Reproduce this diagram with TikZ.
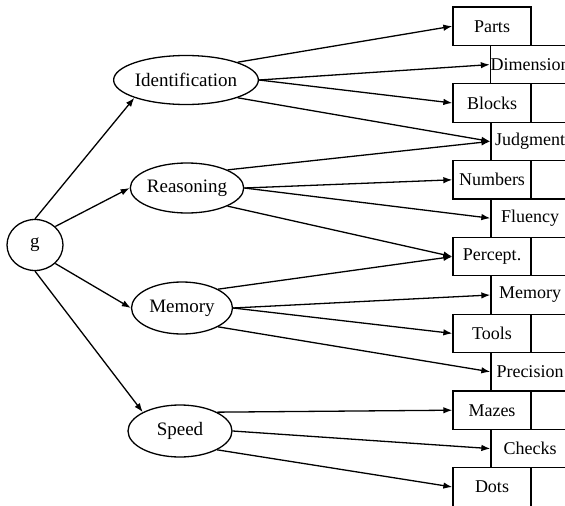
\documentclass[tikz,border=0pt]{standalone}
\usepackage{fontspec}
\setmainfont{Liberation Serif}
\usetikzlibrary{shapes.geometric,arrows.meta}
\begin{document}
\begin{tikzpicture}[x=1pt,y=-1pt,
  lat/.style={draw, ellipse, inner sep=0pt, line width=1.3pt, font=\fontsize{19}{21}\selectfont},
  obs/.style={draw, rectangle, minimum width=78pt, minimum height=38.4pt, inner sep=0pt, line width=1.3pt, font=\fontsize{18}{20}\selectfont},
  arr/.style={-{Latex[length=9pt,width=6.5pt]}, line width=1.3pt}]
\useasboundingbox (0,0) rectangle (565,506);
% latent nodes
\node[lat, minimum width=56pt, minimum height=51pt] (g) at (35,245) {g};
\node[lat, minimum width=106pt, minimum height=49pt] (id) at (186,80) {Identification};
\node[lat, minimum width=110pt, minimum height=50pt] (re) at (187,188) {Reasoning};
\node[lat, minimum width=101pt, minimum height=52pt] (me) at (182,308) {Memory};
\node[lat, minimum width=104pt, minimum height=52pt] (sp) at (180,431) {Speed};
% observed boxes
\node[obs] (parts)  at (492,26.2)  {Parts};
\node[obs] (dim)    at (530,64.6)  {Dimension};
\node[obs] (blocks) at (492,103)   {Blocks};
\node[obs] (judg)   at (530,141.4) {Judgment};
\node[obs] (num)    at (492,179.8) {Numbers};
\node[obs] (flu)    at (530,218.2) {Fluency};
\node[obs] (perc)   at (492,256.6) {Percept.};
\node[obs] (mem)    at (530,295)   {Memory};
\node[obs] (tools)  at (492,333.4) {Tools};
\node[obs] (prec)   at (530,371.8) {Precision};
\node[obs] (mazes)  at (492,410.2) {Mazes};
\node[obs] (checks) at (530,448.6) {Checks};
\node[obs] (dots)   at (492,487)   {Dots};
% g to latent
\draw[arr] (g.north) -- (id.south west);
\draw[arr] (g.north east) -- (re.west);
\draw[arr] (g.south east) -- (me.west);
\draw[arr] (g.south) -- (sp.north west);
% Identification
\draw[arr] (id.north east) -- (parts.west);
\draw[arr] (id.east) -- (dim.west);
\draw[arr] (id.east) -- (blocks.west);
\draw[arr] (id.south east) -- (judg.west);
% Reasoning
\draw[arr] (re.north east) -- (judg.west);
\draw[arr] (re.east) -- (num.west);
\draw[arr] (re.east) -- (flu.west);
\draw[arr] (re.south east) -- (perc.west);
% Memory
\draw[arr] (me.north east) -- (perc.west);
\draw[arr] (me.east) -- (mem.west);
\draw[arr] (me.east) -- (tools.west);
\draw[arr] (me.south east) -- (prec.west);
% Speed
\draw[arr] (sp.north east) -- (mazes.west);
\draw[arr] (sp.east) -- (checks.west);
\draw[arr] (sp.south east) -- (dots.west);
\end{tikzpicture}
\end{document}
